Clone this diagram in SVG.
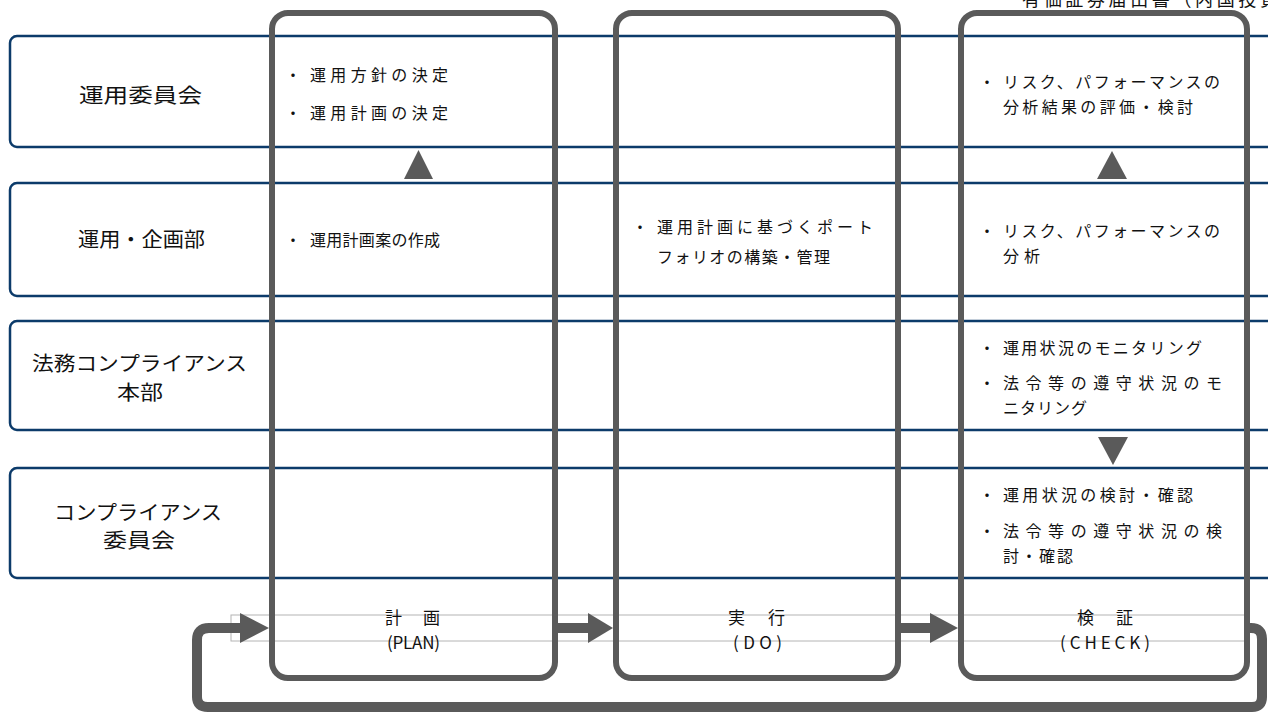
<svg xmlns="http://www.w3.org/2000/svg" width="1268" height="715" viewBox="0 0 1268 715">
<style>
text{font-family:"Noto Sans CJK JP","Noto Sans CJK SC",sans-serif;fill:#111;}
.row{fill:#fff;stroke:#0c3b6a;stroke-width:2.5;}
.col{fill:none;stroke:#5a5a5a;stroke-width:6;}
.lbl{font-size:20px;text-anchor:start;}
.b{font-size:16px;}
.ct{font-size:17px;}
.gray{fill:#5a5a5a;}
.loop{fill:none;stroke:#5a5a5a;stroke-width:10;}
</style>
<rect width="1268" height="715" fill="#fff"/>
<text x="1022" y="6" font-size="18" textLength="256" lengthAdjust="spacing">有価証券届出書（内国投資</text>
<g id="row1"><rect class="row" x="10" y="36" width="1290" height="111" rx="7"/>
<text class="lbl" x="79" y="103" textLength="123" lengthAdjust="spacingAndGlyphs">運用委員会</text></g>
<g id="row2"><rect class="row" x="10" y="183" width="1290" height="113" rx="7"/>
<text class="lbl" x="78" y="247" textLength="127" lengthAdjust="spacingAndGlyphs">運用・企画部</text></g>
<g id="row3"><rect class="row" x="10" y="321" width="1290" height="109" rx="7"/>
<text class="lbl" x="32" y="371" textLength="215" lengthAdjust="spacingAndGlyphs">法務コンプライアンス</text>
<text class="lbl" x="117" y="400" textLength="46" lengthAdjust="spacingAndGlyphs">本部</text></g>
<g id="row4"><rect class="row" x="10" y="468" width="1290" height="110" rx="7"/>
<text class="lbl" x="54" y="520" textLength="168" lengthAdjust="spacingAndGlyphs">コンプライアンス</text>
<text class="lbl" x="103" y="548" textLength="72" lengthAdjust="spacingAndGlyphs">委員会</text></g>
<rect x="231" y="615" width="1015" height="26" fill="none" stroke="#b4b4b4" stroke-width="1"/>
<g id="plan"><rect class="col" x="272" y="13" width="283" height="665" rx="16"/>
<text class="b" x="285" y="81">・</text><text class="b" x="310" y="81" textLength="138" lengthAdjust="spacing">運用方針の決定</text>
<text class="b" x="285" y="119">・</text><text class="b" x="310" y="119" textLength="138" lengthAdjust="spacing">運用計画の決定</text>
<text class="b" x="285" y="246">・</text><text class="b" x="310" y="246" textLength="130" lengthAdjust="spacing">運用計画案の作成</text>
<text class="ct" x="385" y="624" textLength="55" lengthAdjust="spacing">計　画</text>
<text class="ct" x="387" y="649" textLength="53" lengthAdjust="spacing">(PLAN)</text></g>
<g id="do"><rect class="col" x="616" y="13" width="282" height="665" rx="16"/>
<text class="b" x="632" y="233">・</text><text class="b" x="657" y="233" textLength="216" lengthAdjust="spacing">運用計画に基づくポート</text>
<text class="b" x="657" y="263" textLength="173" lengthAdjust="spacing">フォリオの構築・管理</text>
<text class="ct" x="728" y="624" textLength="57" lengthAdjust="spacing">実　行</text>
<text class="ct" x="733" y="649" textLength="49" lengthAdjust="spacing">(DO)</text></g>
<g id="check"><rect class="col" x="961" y="13" width="286" height="665" rx="16"/>
<text class="b" x="979" y="88">・</text><text class="b" x="1003" y="88" textLength="217" lengthAdjust="spacing">リスク、パフォーマンスの</text>
<text class="b" x="1003" y="113" textLength="190" lengthAdjust="spacing">分析結果の評価・検討</text>
<text class="b" x="979" y="237">・</text><text class="b" x="1003" y="237" textLength="217" lengthAdjust="spacing">リスク、パフォーマンスの</text>
<text class="b" x="1003" y="262" textLength="37" lengthAdjust="spacing">分析</text>
<text class="b" x="979" y="354">・</text><text class="b" x="1003" y="354" textLength="199" lengthAdjust="spacing">運用状況のモニタリング</text>
<text class="b" x="979" y="389">・</text><text class="b" x="1003" y="389" textLength="219" lengthAdjust="spacing">法令等の遵守状況のモ</text>
<text class="b" x="1003" y="414" textLength="84" lengthAdjust="spacing">ニタリング</text>
<text class="b" x="979" y="501">・</text><text class="b" x="1003" y="501" textLength="190" lengthAdjust="spacing">運用状況の検討・確認</text>
<text class="b" x="979" y="537">・</text><text class="b" x="1003" y="537" textLength="219" lengthAdjust="spacing">法令等の遵守状況の検</text>
<text class="b" x="1003" y="562" textLength="70" lengthAdjust="spacing">討・確認</text>
<text class="ct" x="1077" y="624" textLength="56" lengthAdjust="spacing">検　証</text>
<text class="ct" x="1060" y="649" textLength="90" lengthAdjust="spacing">(CHECK)</text></g>
<g id="connectors">
<polygon class="gray" points="418.5,150 404,179 433,179"/>
<polygon class="gray" points="1112,151 1097,179 1127,179"/>
<polygon class="gray" points="1098,437 1128,437 1113,465"/>
<rect class="gray" x="557" y="623" width="33" height="10"/>
<polygon class="gray" points="588,613 613,628 588,643"/>
<rect class="gray" x="900" y="623" width="32" height="10"/>
<polygon class="gray" points="930,613 958,628 930,643"/>
<path class="loop" d="M1249,628 H1251 Q1262,628 1262,639 V697 Q1262,707 1252,707 H208 Q197,707 197,697 V640 Q197,628 209,628 H242"/>
<polygon class="gray" points="240,613 269,628 240,643"/>
</g>
</svg>
